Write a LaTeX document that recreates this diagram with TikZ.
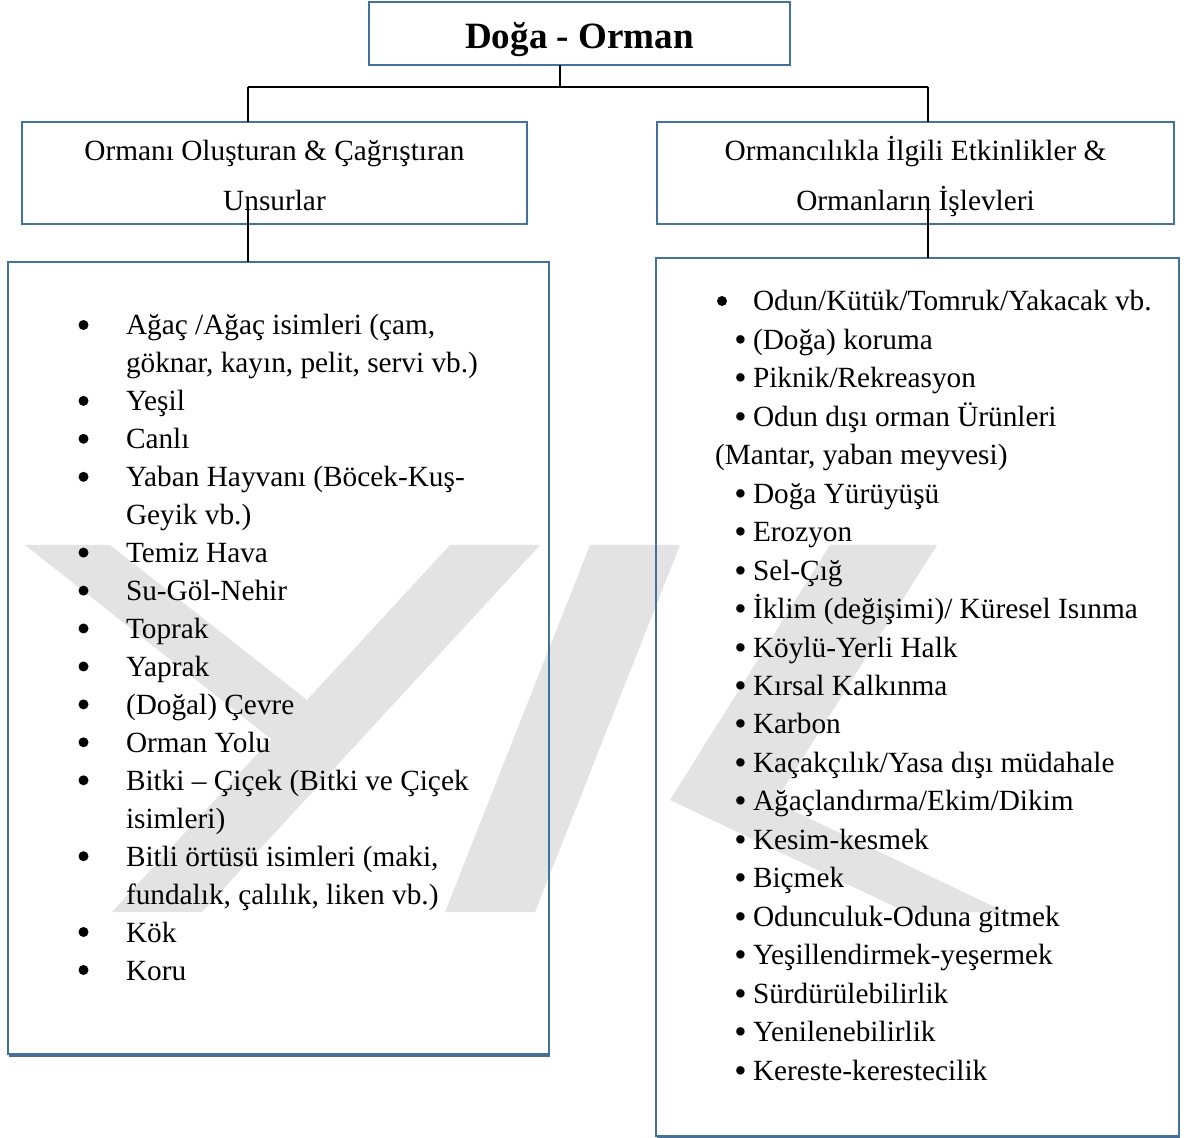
\documentclass[tikz,border=0pt]{standalone}
\usepackage{fontspec}
\setmainfont{Liberation Serif}
\definecolor{bx}{HTML}{41719C}
\definecolor{bxs}{HTML}{2F5276}
\definecolor{wm}{HTML}{E3E3E3}
\newcommand\smallbul{\raisebox{-1pt}{\scalebox{1.2}{•}}}
\newcommand\rbul{\llap{\smallbul\hspace{3.2pt}}}
\begin{document}
\begin{tikzpicture}[x=0.5pt,y=-0.5pt,
  box/.style={draw=bx, line width=1.25pt, inner sep=0pt, outer sep=0pt},
  shadowline/.style={draw=bxs, line width=1pt, opacity=0.85},
  conn/.style={draw=black, line width=0.8pt},
  dot/.style={circle, fill=black, draw=none, inner sep=0pt, minimum size=5pt},
  body/.style={inner sep=0pt, outer sep=0pt, anchor=base west, font=\fontsize{14.65pt}{17pt}\selectfont},
  head/.style={inner sep=0pt, outer sep=0pt, anchor=base, font=\fontsize{14.65pt}{17pt}\selectfont},
  ttl/.style={inner sep=0pt, outer sep=0pt, anchor=base, font=\fontsize{18.55pt}{20pt}\selectfont\bfseries}]
\useasboundingbox (0,0) rectangle (1184,1138);
% watermark
\fill[wm] (25,545) -- (110,545) -- (307,700) -- (450,545) -- (540,545) -- (202,912) -- (112,912) -- (271,739) -- cycle;
\fill[wm] (590,545) -- (680,545) -- (535,912) -- (445,912) -- cycle;
\fill[wm] (830,545) -- (937,545) -- (775,802) -- (1005,912) -- (906,912) -- (670,800) -- cycle;
% boxes
\node[box, minimum width=210.5pt, minimum height=31.5pt] (top) at (579.5,33.5) {};
\node[box, minimum width=252.5pt, minimum height=51pt] (hl) at (274.5,173) {};
\node[box, minimum width=258.5pt, minimum height=51pt] (hr) at (915.5,173) {};
\node[box, minimum width=270.5pt, minimum height=396pt] (ll) at (278.5,658) {};
\node[box, minimum width=261.5pt, minimum height=439pt] (lr) at (917.5,697) {};
\draw[shadowline] ([shift={(1,1.6)}]ll.south west) -- ([shift={(1,1.6)}]ll.south east);
\draw[shadowline] ([shift={(1,1.6)}]lr.south west) -- ([shift={(1,1.6)}]lr.south east);
% connectors
\coordinate (j) at (560,87);
\coordinate (jl) at (248,87);
\coordinate (jr) at (928,87);
\coordinate (sl) at (248,198);
\coordinate (sr) at (928,198);
\draw[conn] (top.south -| j) -- (j);
\draw[conn] (jl) -- (jr);
\draw[conn] (jl) -- (jl |- hl.north);
\draw[conn] (jr) -- (jr |- hr.north);
\draw[conn] (sl) -- (sl |- ll.north);
\draw[conn] (sr) -- (sr |- lr.north);
% title and headers
\node[ttl] (t) at (579.5,48.5) {Doğa - Orman};
\node[head] (hl1) at (274.5,161) {Ormanı Oluşturan \& Çağrıştıran};
\node[head] (hl2) at (274.5,211) {Unsurlar};
\node[head] (hr1) at (915.5,161) {Ormancılıkla İlgili Etkinlikler \&};
\node[head] (hr2) at (915.5,211) {Ormanların İşlevleri};
% left list bullets
\foreach \yy [count=\n] in {335,410.9,448.8,486.8,562.6,600.6,638.5,676.5,714.4,752.3,790.3,866.2,942.0,980.0}
  \node[dot] (lb\n) at (83.5,\yy-10) {};
\node[dot] (rb0) at (722,301) {};
% left list
\node[body] (l0) at (126,335) {Ağaç /Ağaç isimleri (çam,};
\node[body] (l1) at (126,372.9) {göknar, kayın, pelit, servi vb.)};
\node[body] (l2) at (126,410.9) {Yeşil};
\node[body] (l3) at (126,448.8) {Canlı};
\node[body] (l4) at (126,486.8) {Yaban Hayvanı (Böcek-Kuş-};
\node[body] (l5) at (126,524.7) {Geyik vb.)};
\node[body] (l6) at (126,562.6) {Temiz Hava};
\node[body] (l7) at (126,600.6) {Su-Göl-Nehir};
\node[body] (l8) at (126,638.5) {Toprak};
\node[body] (l9) at (126,676.5) {Yaprak};
\node[body] (l10) at (126,714.4) {(Doğal) Çevre};
\node[body] (l11) at (126,752.3) {Orman Yolu};
\node[body] (l12) at (126,790.3) {Bitki – Çiçek (Bitki ve Çiçek};
\node[body] (l13) at (126,828.2) {isimleri)};
\node[body] (l14) at (126,866.2) {Bitli örtüsü isimleri (maki,};
\node[body] (l15) at (126,904.1) {fundalık, çalılık, liken vb.)};
\node[body] (l16) at (126,942.0) {Kök};
\node[body] (l17) at (126,980.0) {Koru};
% right list
\node[body] (r0) at (753,311) {Odun/Kütük/Tomruk/Yakacak vb.};
\node[body] (r1) at (753,349.45) {\rbul (Doğa) koruma};
\node[body] (r2) at (753,387.9) {\rbul Piknik/Rekreasyon};
\node[body] (r3) at (753,426.35) {\rbul Odun dışı orman Ürünleri};
\node[body] (r4) at (715,464.8) {(Mantar, yaban meyvesi)};
\node[body] (r5) at (753,503.25) {\rbul Doğa Yürüyüşü};
\node[body] (r6) at (753,541.7) {\rbul Erozyon};
\node[body] (r7) at (753,580.15) {\rbul Sel-Çığ};
\node[body] (r8) at (753,618.6) {\rbul İklim (değişimi)/ Küresel Isınma};
\node[body] (r9) at (753,657.05) {\rbul Köylü-Yerli Halk};
\node[body] (r10) at (753,695.5) {\rbul Kırsal Kalkınma};
\node[body] (r11) at (753,733.95) {\rbul Karbon};
\node[body] (r12) at (753,772.4) {\rbul Kaçakçılık/Yasa dışı müdahale};
\node[body] (r13) at (753,810.85) {\rbul Ağaçlandırma/Ekim/Dikim};
\node[body] (r14) at (753,849.3) {\rbul Kesim-kesmek};
\node[body] (r15) at (753,887.75) {\rbul Biçmek};
\node[body] (r16) at (753,926.2) {\rbul Odunculuk-Oduna gitmek};
\node[body] (r17) at (753,964.65) {\rbul Yeşillendirmek-yeşermek};
\node[body] (r18) at (753,1003.1) {\rbul Sürdürülebilirlik};
\node[body] (r19) at (753,1041.55) {\rbul Yenilenebilirlik};
\node[body] (r20) at (753,1080) {\rbul Kereste-kerestecilik};
\end{tikzpicture}
\end{document}
